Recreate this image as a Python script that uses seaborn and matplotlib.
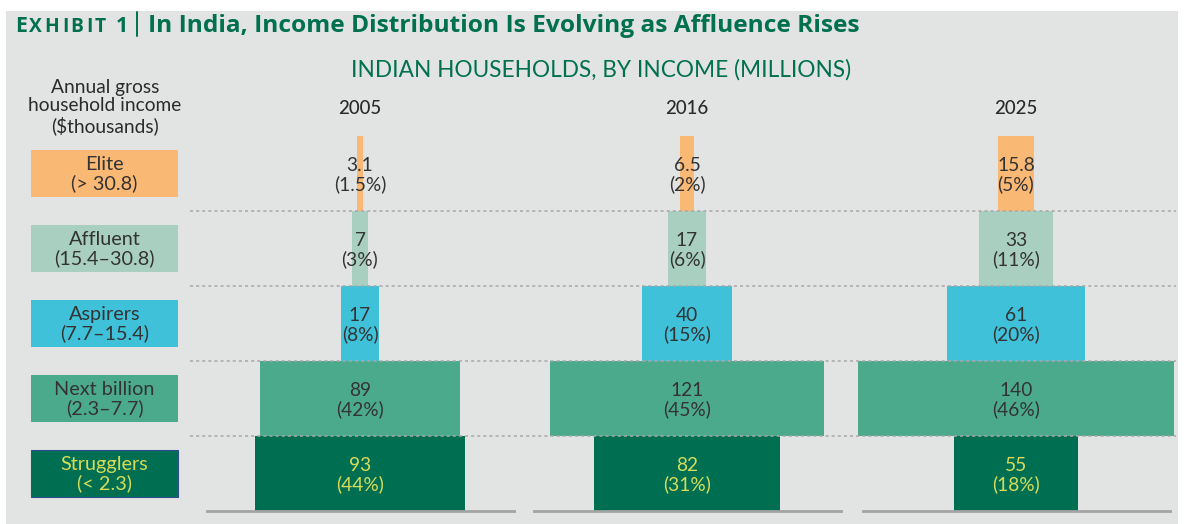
import numpy as np
import pandas as pd
import matplotlib
matplotlib.use("Agg")
import matplotlib.pyplot as plt
import seaborn as sns
from matplotlib.patches import Rectangle
from matplotlib.lines import Line2D
import matplotlib.transforms as mtransforms

# ---------------- data ----------------
years = ["2005", "2016", "2025"]
segments = ["Elite", "Affluent", "Aspirers", "Next billion", "Strugglers"]
income_ranges = ["(> 30.8)", "(15.4–30.8)", "(7.7–15.4)", "(2.3–7.7)", "(< 2.3)"]
households_2005 = [3.1, 7, 17, 89, 93]
households_2016 = [6.5, 17, 40, 121, 82]
households_2025 = [15.8, 33, 61, 140, 55]
share_2005 = ["1.5%", "3%", "8%", "42%", "44%"]
share_2016 = ["2%", "6%", "15%", "45%", "31%"]
share_2025 = ["5%", "11%", "20%", "46%", "18%"]

# ---------------- style ----------------
seg_colors = ["#F9B874", "#A9CFC0", "#3FC1DA", "#4BAA8C", "#006F51"]
seg_text = ["#333333", "#333333", "#333333", "#333333", "#D5DC5B"]
GREEN = "#00704F"
BG = "#E2E3E3"
DARK = "#2b2b2b"

sns.set_theme(style="white")
plt.rcParams['font.family'] = ['Lato', 'DejaVu Sans']

W, H = 1184, 524
fig = plt.figure(figsize=(W / 100, H / 100), dpi=100)
fig.patch.set_facecolor("white")
fig.add_artist(Rectangle((6 / W, 0), (1178 - 6) / W, (H - 11) / H,
                         transform=fig.transFigure, facecolor=BG,
                         edgecolor="none", zorder=-10))


def fx(px):
    return px / W


def fy(py):
    return 1 - py / H


renderer = fig.canvas.get_renderer()


def fit_width(t, target):
    bb = t.get_window_extent(renderer)
    t.set_fontsize(t.get_fontsize() * target / bb.width)


# ---------------- title ----------------
TFONT = ['Open Sans', 'DejaVu Sans']
base = fy(32)
x = 15
letters = [("E", 15.5)] + [(c, 13.9) for c in "XHIBIT"]
for c, size in letters:
    t = fig.text(fx(x), base, c, fontsize=size, fontweight="bold", color=GREEN,
                 va="baseline", ha="left", family=TFONT)
    x = t.get_window_extent(renderer).x1 + 2.4
t = fig.text(fx(128), base, "1", fontsize=15.5, fontweight="bold", color=GREEN,
             va="baseline", ha="right", family=TFONT)
fig.add_artist(Line2D([fx(137), fx(137)], [fy(12), fy(36)], color=GREEN, lw=1.4,
                      transform=fig.transFigure))
tt = fig.text(fx(148), base, "In India, Income Distribution Is Evolving as Affluence Rises",
              fontsize=15.5, fontweight="bold", color=GREEN, va="baseline", ha="left",
              family=TFONT)
fit_width(tt, 710)

st = fig.text(fx(601), fy(70), "INDIAN HOUSEHOLDS, BY INCOME (MILLIONS)", fontsize=15,
              color=GREEN, ha="center", va="center")
fit_width(st, 498)

fig.text(fx(105), fy(107), "Annual gross\nhousehold income\n($thousands)", fontsize=13.8,
         color=DARK, ha="center", va="center", linespacing=1.1)

# ---------------- panels ----------------
centers = [360, 687, 1016]
ax_w = 307
L = 68
series = [households_2005, households_2016, households_2025]
shares = [share_2005, share_2016, share_2025]
axes = []
for i, (yr, vals, shr) in enumerate(zip(years, series, shares)):
    ax = fig.add_axes([fx(centers[i] - ax_w / 2), fy(511), fx(ax_w), (511 - 136) / H])
    ax.set_facecolor("none")
    df = pd.DataFrame({"segment": segments, "value": vals})
    df["right"] = df["value"] / 2
    df["left"] = -df["value"] / 2
    for col in ["right", "left"]:
        sns.barplot(data=df, x=col, y="segment", hue="segment", order=segments,
                    hue_order=segments, palette=seg_colors, saturation=1, orient="h",
                    width=1.0, dodge=False, errorbar=None, linewidth=0, legend=False,
                    ax=ax)
    for p in ax.patches:
        p.set_antialiased(False)
        p.set_clip_on(False)
    ax.set_xlim(-L, L)
    ax.set_ylim(4.5, -0.5)
    ax.set_xticks([])
    ax.set_yticks([])
    ax.set_xlabel("")
    ax.set_ylabel("")
    for s in ["top", "left", "right"]:
        ax.spines[s].set_visible(False)
    ax.spines["bottom"].set_color("#A3A3A3")
    ax.spines["bottom"].set_linewidth(2)
    for j, (v, s) in enumerate(zip(vals, shr)):
        ax.text(0, j + 0.02, f"{v:g}\n({s})", ha="center", va="center", fontsize=13.8,
                color=seg_text[j], linespacing=1.08, zorder=5)
    ax.annotate(yr, xy=(0.5, 1), xycoords="axes fraction", xytext=(0, 27 * 0.72),
                textcoords="offset points", ha="center", va="center", fontsize=13.4,
                color=DARK, fontweight="medium", annotation_clip=False)
    axes.append(ax)

ax0 = axes[0]
blend = mtransforms.blended_transform_factory(fig.transFigure, ax0.transData)

# dotted row separators
for k in range(4):
    fig.add_artist(Line2D([fx(190), fx(1176)], [k + 0.5, k + 0.5], transform=blend,
                          color="#A8A8A8", lw=1.1, linestyle=(0, (2, 2)), zorder=3))

# legend boxes
for j, seg in enumerate(segments):
    ec = "#2F4F8F" if j == 4 else "none"
    fig.add_artist(Rectangle((fx(31), j - 0.315), fx(147), 0.63, transform=blend,
                             facecolor=seg_colors[j], edgecolor=ec, lw=0.8, zorder=2))
    fig.text(fx(104.5), j + 0.01, f"{seg}\n{income_ranges[j]}", transform=blend,
             ha="center", va="center", fontsize=14.3, color=seg_text[j],
             linespacing=1.08, zorder=4)

fig.savefig("out.png", dpi=100, facecolor=fig.get_facecolor())
